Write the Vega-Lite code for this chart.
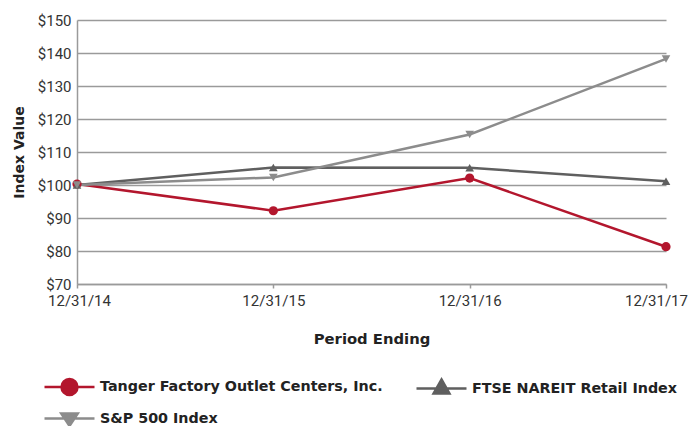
{
  "$schema": "https://vega.github.io/schema/vega-lite/v6.json",
  "width": 589,
  "height": 264,
  "autosize": "none",
  "padding": {"left": 77, "top": 20, "right": 25, "bottom": 142},
  "background": "white",
  "config": {
    "view": {"stroke": null},
    "font": "Roboto"
  },
  "data": {
    "values": [
      {"period": "12/31/14", "series": "Tanger Factory Outlet Centers, Inc.", "value": 100.3},
      {"period": "12/31/15", "series": "Tanger Factory Outlet Centers, Inc.", "value": 92.2},
      {"period": "12/31/16", "series": "Tanger Factory Outlet Centers, Inc.", "value": 102.1},
      {"period": "12/31/17", "series": "Tanger Factory Outlet Centers, Inc.", "value": 81.3},
      {"period": "12/31/14", "series": "FTSE NAREIT Retail Index", "value": 100},
      {"period": "12/31/15", "series": "FTSE NAREIT Retail Index", "value": 105.3},
      {"period": "12/31/16", "series": "FTSE NAREIT Retail Index", "value": 105.2},
      {"period": "12/31/17", "series": "FTSE NAREIT Retail Index", "value": 101.1},
      {"period": "12/31/14", "series": "S&P 500 Index", "value": 100},
      {"period": "12/31/15", "series": "S&P 500 Index", "value": 102.3},
      {"period": "12/31/16", "series": "S&P 500 Index", "value": 115.3},
      {"period": "12/31/17", "series": "S&P 500 Index", "value": 138.2}
    ]
  },
  "encoding": {
    "x": {
      "field": "period",
      "type": "ordinal",
      "scale": {"type": "point", "padding": 0},
      "axis": {
        "title": "Period Ending",
        "labelAngle": 0,
        "labelFont": "Roboto",
        "labelFontSize": 15,
        "labelColor": "#333333",
        "labelPadding": 5,
        "labelOffset": {"expr": "datum.value === '12/31/17' ? -10 : datum.value === '12/31/14' ? 2 : 0"},
        "tickSize": 4,
        "tickColor": "#9a9a9a",
        "tickWidth": 1.5,
        "domainColor": "#9a9a9a",
        "domainWidth": 1.5,
        "titleFont": "DejaVu Sans",
        "titleFontSize": 14.8,
        "titleFontWeight": "bold",
        "titleColor": "#222222",
        "titlePadding": 23,
        "grid": false
      }
    },
    "y": {
      "field": "value",
      "type": "quantitative",
      "scale": {"domain": [70, 150], "nice": false, "zero": false},
      "axis": {
        "title": "Index Value",
        "values": [70, 80, 90, 100, 110, 120, 130, 140, 150],
        "labelExpr": "'$' + datum.value",
        "labelFont": "Roboto",
        "labelFontSize": 15,
        "labelColor": "#333333",
        "labelPadding": 6,
        "ticks": false,
        "domainColor": "#9a9a9a",
        "domainWidth": 1.5,
        "grid": true,
        "gridColor": "#9a9a9a",
        "gridWidth": 1.5,
        "titleFont": "DejaVu Sans",
        "titleFontSize": 14,
        "titleFontWeight": "bold",
        "titleColor": "#222222",
        "titlePadding": 11
      }
    },
    "color": {
      "field": "series",
      "type": "nominal",
      "scale": {
        "domain": ["Tanger Factory Outlet Centers, Inc.", "FTSE NAREIT Retail Index", "S&P 500 Index"],
        "range": ["#b3162d", "#5f5f5f", "#8c8c8c"]
      },
      "legend": null
    }
  },
  "layer": [
    {
      "mark": {"type": "line", "strokeWidth": 2.5},
      "encoding": {
        "color": {
          "field": "series",
          "type": "nominal",
          "legend": {
            "orient": "none",
            "legendX": -25.5,
            "legendY": 348.5,
            "direction": "horizontal",
            "columns": 2,
            "title": null,
            "symbolSize": 1089,
            "symbolStrokeWidth": 2.5,
            "labelFont": "DejaVu Sans",
            "labelFontSize": 14.3,
            "labelFontWeight": "bold",
            "labelColor": "#222222",
            "labelOffset": 12.5,
            "labelLimit": 400,
            "columnPadding": 28,
            "rowPadding": 0,
            "encode": {
              "symbols": {
                "update": {
                  "shape": {"signal": "datum.value === 'Tanger Factory Outlet Centers, Inc.' ? 'M-1.515,0H1.515M0.485,0A0.485,0.485,0,1,1,-0.485,0A0.485,0.485,0,1,1,0.485,0Z' : datum.value === 'FTSE NAREIT Retail Index' ? 'M-1.515,0H1.515M0,-0.55L0.48,0.3L-0.48,0.3Z' : 'M-1.515,0H1.515M0,0.45L0.5,-0.3L-0.5,-0.3Z'"},
                  "fill": {"signal": "datum.value === 'Tanger Factory Outlet Centers, Inc.' ? '#b3162d' : datum.value === 'FTSE NAREIT Retail Index' ? '#5f5f5f' : '#8c8c8c'"},
                  "opacity": {"value": 1}
                }
              }
            }
          }
        }
      }
    },
    {
      "transform": [{"filter": "datum.series === 'Tanger Factory Outlet Centers, Inc.'"}],
      "mark": {"type": "point", "shape": "circle", "filled": true, "opacity": 1, "size": 85}
    },
    {
      "transform": [{"filter": "datum.series === 'FTSE NAREIT Retail Index'"}],
      "mark": {"type": "point", "shape": "triangle-up", "filled": true, "opacity": 1, "size": 75}
    },
    {
      "transform": [{"filter": "datum.series === 'S&P 500 Index'"}],
      "mark": {"type": "point", "shape": "triangle-down", "filled": true, "opacity": 1, "size": 75}
    }
  ]
}
